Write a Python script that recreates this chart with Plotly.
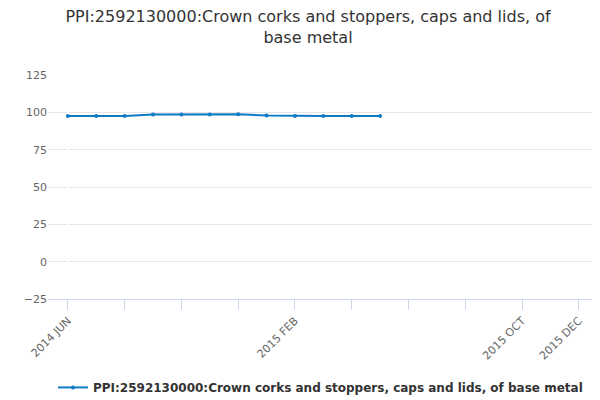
import plotly.graph_objects as go

months = ["2014 JUN","2014 JUL","2014 AUG","2014 SEP","2014 OCT","2014 NOV","2014 DEC",
          "2015 JAN","2015 FEB","2015 MAR","2015 APR","2015 MAY","2015 JUN","2015 JUL",
          "2015 AUG","2015 SEP","2015 OCT","2015 NOV","2015 DEC"]
values = [97.5, 97.5, 97.5, 98.5, 98.5, 98.5, 98.7, 97.8, 97.5, 97.5, 97.5, 97.5]
labeled = {"2014 JUN", "2015 FEB", "2015 OCT", "2015 DEC"}
name = "PPI:2592130000:Crown corks and stoppers, caps and lids, of base metal"

idx = list(range(len(months)))
tickvals = idx[::2]
ticktext = [months[i] if months[i] in labeled else "" for i in tickvals]

fig = go.Figure(go.Scatter(
    x=idx[:len(values)], y=values, mode="lines+markers", name="<b>" + name + "</b>",
    line=dict(color="#0e7bc4", width=2), marker=dict(size=4, color="#0e7bc4")))

fig.update_layout(
    width=600, height=400, plot_bgcolor="white", paper_bgcolor="white",
    font=dict(family="DejaVu Sans", color="#333"),
    title=dict(text="PPI:2592130000:Crown corks and stoppers, caps and lids, of<br>base metal",
               x=0.5, xanchor="center", y=0.965, yanchor="top", font=dict(size=16, color="#333")),
    margin=dict(l=40, r=15, t=67, b=109, autoexpand=False),
    showlegend=True,
    legend=dict(orientation="h", x=0.5, xanchor="center", y=-0.33, yanchor="top",
                font=dict(size=12, color="#333")),
    annotations=[dict(text="Source:", x=1.01, xref="paper", xanchor="right", y=-0.44,
                      yref="paper", yanchor="top", showarrow=False,
                      font=dict(size=12, color="#666"))],
)
fig.update_xaxes(range=[-0.7, 18.5], tickvals=tickvals, ticktext=ticktext, tickangle=-45,
                 ticks="outside", ticklen=10, tickcolor="#ccd6eb", showline=True,
                 linecolor="#ccd6eb", showgrid=False, tickfont=dict(size=11, color="#666"))
fig.update_yaxes(range=[-25, 125], dtick=25, gridcolor="#e6e6e6", zeroline=False,
                 tickfont=dict(size=11, color="#666"))
fig.write_html("out.html")
